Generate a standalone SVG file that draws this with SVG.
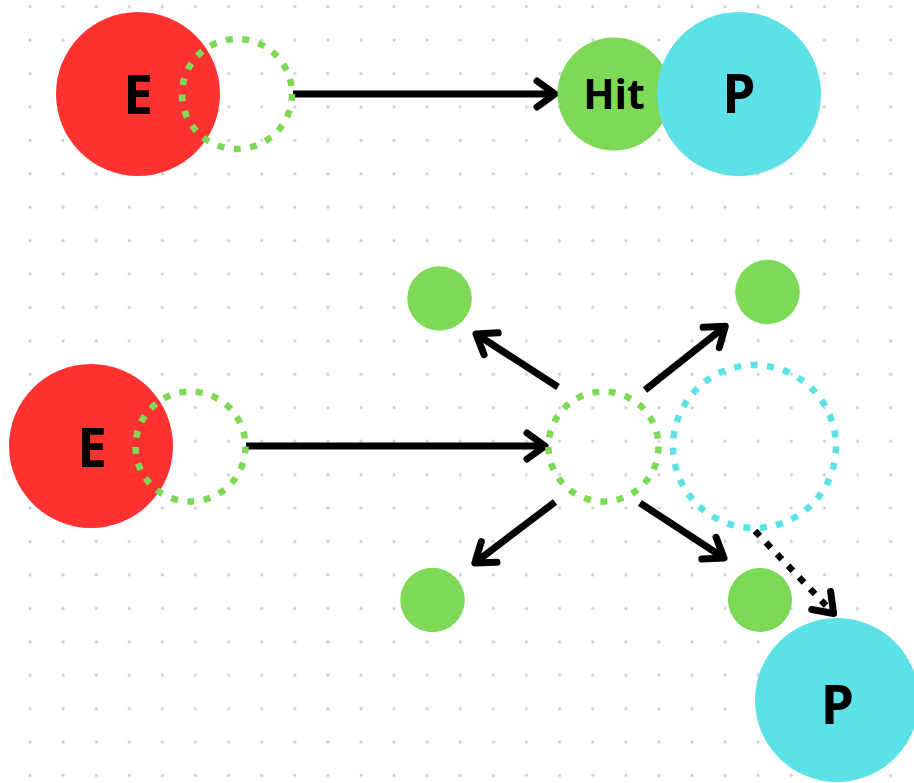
<svg xmlns="http://www.w3.org/2000/svg" width="914" height="783" viewBox="0 0 914 783">
  <style>
    .red { fill: #ff3131; }
    .green { fill: #7ed957; }
    .cyan { fill: #5ce1e6; }
    .dgreen { fill: none; stroke: #7ed957; stroke-width: 6.5; stroke-dasharray: 7 9.5; }
    .dcyan { fill: none; stroke: #5ce1e6; stroke-width: 6.5; stroke-dasharray: 7 9.5; }
    .lbl { font-family: "Open Sans", "Liberation Sans", sans-serif; font-weight: 700; fill: #000; text-anchor: middle; }
    .conn { fill: none; stroke: #000; stroke-width: 7; marker-end: url(#arrow); }
    .dotted { stroke-width: 6.5; stroke-dasharray: 7 9; }
  </style>
  <defs>
    <pattern id="grid" patternUnits="userSpaceOnUse" x="13.45" y="-10" width="33.1" height="33.43">
      <circle cx="16.55" cy="16.7" r="1.6" fill="#c7ccd8"/>
    </pattern>
    <marker id="arrow" markerUnits="userSpaceOnUse" viewBox="-30 -20 40 40" refX="0" refY="0" markerWidth="40" markerHeight="40" orient="auto" overflow="visible">
      <path d="M-18,-13 L0,0 L-18,13" fill="none" stroke="#000" stroke-width="7" stroke-linecap="round" stroke-linejoin="round"/>
    </marker>
  </defs>
  <rect width="914" height="783" fill="#ffffff"/>
  <rect width="914" height="783" fill="url(#grid)"/>

  <g id="connectors">
    <line class="conn" x1="293" y1="94" x2="555" y2="94"/>
    <line class="conn" x1="246" y1="446" x2="545" y2="446"/>
    <line class="conn" x1="558" y1="387" x2="476" y2="334"/>
    <line class="conn" x1="645" y1="390" x2="725.3" y2="326.2"/>
    <line class="conn" x1="555" y1="502" x2="474.8" y2="562.9"/>
    <line class="conn" x1="640" y1="503" x2="724" y2="558"/>
    <line class="conn dotted" x1="755" y1="531" x2="833.6" y2="613.5"/>
  </g>

  <g id="E1">
    <circle class="red" cx="138" cy="94" r="82"/>
    <text class="lbl" x="138" y="114" font-size="53">E</text>
  </g>
  <g id="hitbox1">
    <circle class="dgreen" cx="237" cy="94" r="55"/>
  </g>
  <g id="Hit">
    <circle class="green" cx="614" cy="94" r="56.5"/>
    <text class="lbl" x="614" y="109" font-size="41" font-weight="600">Hit</text>
  </g>
  <g id="P1">
    <circle class="cyan" cx="739" cy="94" r="82"/>
    <text class="lbl" x="739" y="113" font-size="53">P</text>
  </g>

  <g id="E2">
    <circle class="red" cx="91" cy="446" r="82"/>
    <text class="lbl" x="92" y="467" font-size="53">E</text>
  </g>
  <g id="hitbox2">
    <circle class="dgreen" cx="190.5" cy="446.5" r="55"/>
  </g>
  <g id="hitbox3">
    <circle class="dgreen" cx="603.5" cy="446.5" r="55"/>
  </g>
  <g id="P-ghost">
    <circle class="dcyan" cx="754.5" cy="446.5" r="81.5"/>
  </g>
  <g id="frag-tl">
    <circle class="green" cx="439.5" cy="298.5" r="32.3"/>
  </g>
  <g id="frag-tr">
    <circle class="green" cx="767.5" cy="292" r="32.3"/>
  </g>
  <g id="frag-bl">
    <circle class="green" cx="432.5" cy="600" r="32.3"/>
  </g>
  <g id="frag-br">
    <circle class="green" cx="760" cy="600" r="32"/>
  </g>
  <g id="P2">
    <circle class="cyan" cx="837" cy="700" r="82"/>
    <text class="lbl" x="837.5" y="724" font-size="53">P</text>
  </g>
</svg>
